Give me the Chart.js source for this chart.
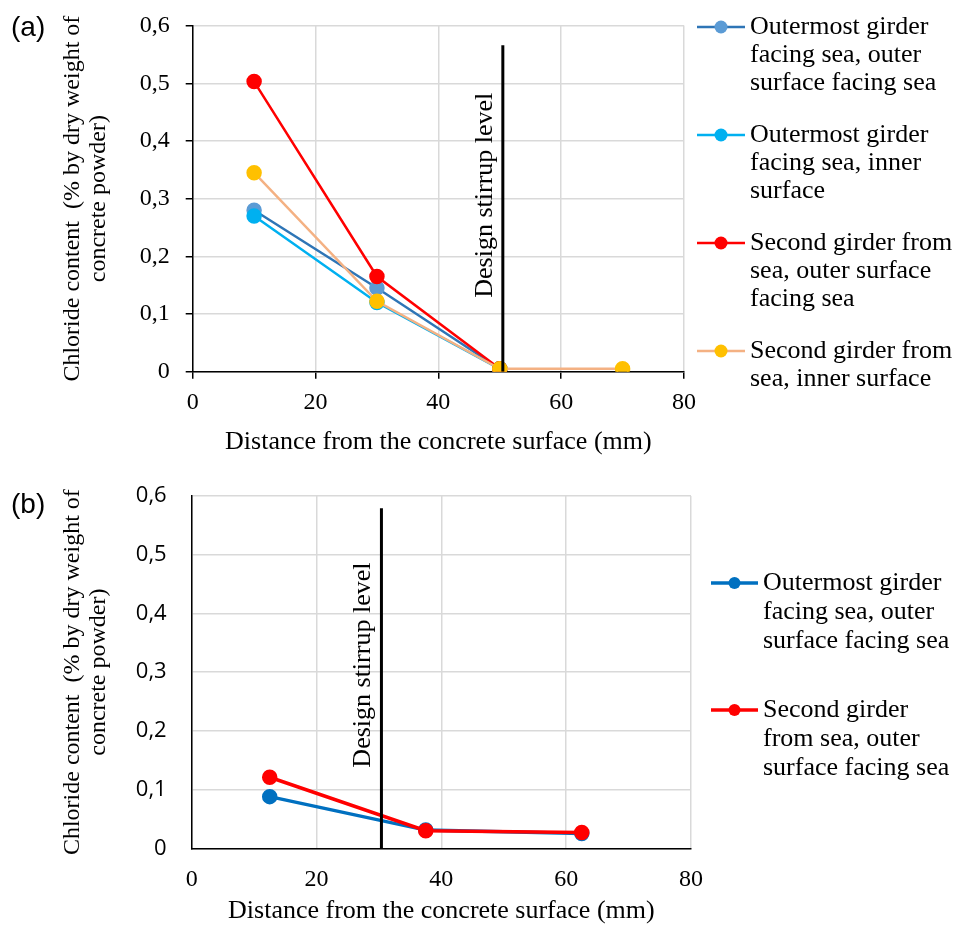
<!DOCTYPE html>
<html>
<head>
<meta charset="utf-8">
<script src="https://cdn.jsdelivr.net/npm/chart.js@4.4.1/dist/chart.umd.min.js"></script>
<style>
    body { margin: 0; background: #fff; }
    .box { position: relative; width: 967px; height: 465px; }
</style>
</head>
<body>
<div class="box"><canvas id="chartA"></canvas></div>
<div class="box"><canvas id="chartB"></canvas></div>
<script>
// Общие тексты
const xTitle = 'Distance from the concrete surface (mm)';
const yTitle = ['Chloride content  (% by dry weight of', 'concrete powder)'];
const stirrupText = 'Design stirrup level';
const yTickText = ['0', '0,1', '0,2', '0,3', '0,4', '0,5', '0,6'];

// График (a)
const depthA = [10, 30, 50];
const depthA4 = [10, 30, 50, 70];
const outerFacingA = [0.28, 0.145, 0.005];
const outerInnerA = [0.27, 0.12, 0.005];
const secondOuterA = [0.503, 0.165, 0.005];
const secondInnerA = [0.345, 0.122, 0.005, 0.005];
const stirrupA = 50.5;
const stirrupTopA = 0.566;
const legendA = [
    ['Outermost girder', 'facing sea, outer', 'surface facing sea'],
    ['Outermost girder', 'facing sea, inner', 'surface'],
    ['Second girder from', 'sea, outer surface', 'facing sea'],
    ['Second girder from', 'sea, inner surface']
];

// График (b)
const depthB = [12.5, 37.5, 62.5];
const outerFacingB = [0.088, 0.031, 0.025];
const secondOuterB = [0.121, 0.030, 0.027];
const stirrupB = 30.4;
const stirrupTopB = 0.579;
const legendB = [
    ['Outermost girder', 'facing sea, outer', 'surface facing sea'],
    ['Second girder', 'from sea, outer', 'surface facing sea']
];

function pts(xs, ys) {
    return xs.map((x, i) => ({ x: x, y: ys[i] }));
}

const extras = {
    id: 'extras',
    afterDatasetsDraw(chart, args, opts) {
        const ctx = chart.ctx;
        const xs = chart.scales.x;
        const ys = chart.scales.y;
        ctx.save();
        ctx.fillStyle = '#000';

        ctx.font = '28px "Liberation Sans"';
        ctx.textAlign = 'left';
        ctx.textBaseline = 'middle';
        ctx.fillText(opts.panel, 11, opts.panelY);

        ctx.save();
        ctx.translate(xs.getPixelForValue(opts.stirrup) - 11, ys.getPixelForValue(opts.textAt));
        ctx.rotate(-Math.PI / 2);
        ctx.font = '26px "Liberation Serif"';
        ctx.textAlign = 'center';
        ctx.textBaseline = 'alphabetic';
        ctx.fillText(stirrupText, 0, 0);
        ctx.restore();

        // легенда справа
        ctx.font = opts.font;
        ctx.textBaseline = 'middle';
        ctx.textAlign = 'left';
        let y = opts.top;
        chart.data.datasets.forEach(ds => {
            if (!ds.legendText) return;
            ctx.strokeStyle = ds.borderColor;
            ctx.lineWidth = ds.borderWidth;
            ctx.beginPath();
            ctx.moveTo(opts.x1, y);
            ctx.lineTo(opts.x2, y);
            ctx.stroke();
            ctx.fillStyle = ds.pointBackgroundColor;
            ctx.beginPath();
            ctx.arc((opts.x1 + opts.x2) / 2, y, opts.markR, 0, Math.PI * 2);
            ctx.fill();
            ctx.fillStyle = '#000';
            ds.legendText.forEach((line, i) => {
                ctx.fillText(line, opts.textX, y + i * opts.lineH);
            });
            y += ds.legendText.length * opts.lineH + opts.gap;
        });
        ctx.restore();
    }
};

function series(label, data, line, mark, width, radius, order) {
    return {
        legendText: label,
        data: data,
        borderColor: line,
        backgroundColor: mark,
        pointBackgroundColor: mark,
        pointBorderColor: mark,
        pointRadius: radius,
        pointHoverRadius: radius,
        borderWidth: width,
        order: order
    };
}

function stirrupSet(x, top) {
    return {
        data: [{ x: x, y: 0 }, { x: x, y: top }],
        borderColor: '#000',
        borderWidth: 3,
        pointRadius: 0,
        order: 0
    };
}

function axes(cfg) {
    return {
        x: {
            type: 'linear',
            min: 0,
            max: 80,
            afterFit: s => { s.height = cfg.xHeight; },
            ticks: {
                stepSize: 20,
                color: '#000',
                padding: cfg.xPad,
                font: { family: 'Liberation Serif', size: 24 }
            },
            grid: {
                color: '#d9d9d9',
                lineWidth: 1.5,
                drawTicks: cfg.marks,
                tickLength: 7,
                tickColor: '#000'
            },
            border: { color: '#000', width: 1.5 },
            title: {
                display: true,
                text: xTitle,
                color: '#000',
                padding: { top: 0, bottom: cfg.xTitlePad },
                font: { family: 'Liberation Serif', size: 26 }
            }
        },
        y: {
            min: 0,
            max: 0.6,
            afterFit: s => { s.width = cfg.yWidth; },
            ticks: {
                stepSize: 0.1,
                color: '#000',
                padding: cfg.yPad,
                font: cfg.yFont,
                callback: (v) => yTickText[Math.round(v * 10)]
            },
            grid: {
                color: '#d9d9d9',
                lineWidth: 1.5,
                drawTicks: cfg.marks,
                tickLength: 7,
                tickColor: '#000'
            },
            border: { color: '#000', width: 1.5 },
            title: {
                display: true,
                text: yTitle,
                color: '#000',
                padding: { top: 60, bottom: 0 },
                font: { family: 'Liberation Serif', size: 24, lineHeight: 1.08 }
            }
        }
    };
}

new Chart(document.getElementById('chartA').getContext('2d'), {
    type: 'line',
    data: {
        datasets: [
            series(legendA[0], pts(depthA, outerFacingA), '#2e75b6', '#5b9bd5', 2.5, 6.5, 4),
            series(legendA[1], pts(depthA, outerInnerA), '#00b0f0', '#00b0f0', 2.5, 6.5, 3),
            series(legendA[2], pts(depthA, secondOuterA), '#ff0000', '#ff0000', 2.5, 6.5, 2),
            series(legendA[3], pts(depthA4, secondInnerA), '#f4b183', '#ffc000', 2.5, 6.5, 1),
            stirrupSet(stirrupA, stirrupTopA)
        ]
    },
    options: {
        responsive: true,
        maintainAspectRatio: false,
        animation: false,
        layout: { padding: { left: 0, right: 283, top: 25.6, bottom: 0 } },
        scales: axes({
            xHeight: 93.3, yWidth: 192.7, marks: true, xPad: 10, yPad: 16, xTitlePad: 7,
            yFont: { family: 'Liberation Serif', size: 24, lineHeight: 0.8 }
        }),
        plugins: {
            legend: { display: false },
            tooltip: { enabled: false },
            extras: {
                panel: '(a)', panelY: 28, stirrup: stirrupA, textAt: 0.306,
                font: '26px "Liberation Serif"', top: 27, lineH: 28, gap: 24,
                x1: 697, x2: 745, textX: 750, markR: 6.5
            }
        }
    },
    plugins: [extras]
});

new Chart(document.getElementById('chartB').getContext('2d'), {
    type: 'line',
    data: {
        datasets: [
            series(legendB[0], pts(depthB, outerFacingB), '#0070c0', '#0070c0', 3.5, 6, 2),
            series(legendB[1], pts(depthB, secondOuterB), '#ff0000', '#ff0000', 3.5, 6, 1),
            stirrupSet(stirrupB, stirrupTopB)
        ]
    },
    options: {
        responsive: true,
        maintainAspectRatio: false,
        animation: false,
        layout: { padding: { left: 0, right: 276, top: 31, bottom: 0 } },
        scales: axes({
            xHeight: 81.7, yWidth: 191.7, marks: false, xPad: 17, yPad: 25, xTitlePad: 3,
            yFont: { family: 'Open Sans', size: 22, lineHeight: 0.5 }
        }),
        plugins: {
            legend: { display: false },
            tooltip: { enabled: false },
            extras: {
                panel: '(b)', panelY: 40, stirrup: stirrupB, textAt: 0.312,
                font: '26px "Liberation Serif"', top: 118, lineH: 29, gap: 40,
                x1: 711, x2: 758, textX: 763, markR: 6
            }
        }
    },
    plugins: [extras]
});
</script>
</body>
</html>
